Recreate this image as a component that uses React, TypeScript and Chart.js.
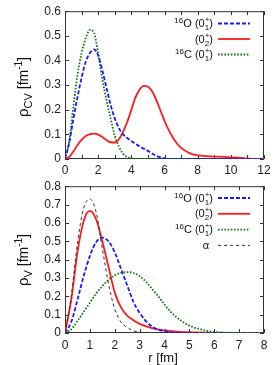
import { useEffect, useRef } from 'react';
import { Chart, registerables } from 'chart.js';
Chart.register(...registerables);

const FONT = '"Liberation Sans", Arial, Helvetica, sans-serif';

// ---------- Top panel: rho_CV ----------
const topXTicks = [0, 2, 4, 6, 8, 10, 12];
const topYTicks = [0, 0.1, 0.2, 0.3, 0.4, 0.5, 0.6];

const topO16R = [0, 0.25, 0.5, 0.75, 1.0, 1.25, 1.5, 1.75, 2.0, 2.25, 2.5, 2.75, 3.0, 3.25, 3.5, 3.75, 4.0, 4.5, 5.0, 5.5, 6.0, 6.5, 12];
const topO16V = [0, 0.065, 0.16, 0.25, 0.33, 0.395, 0.43, 0.445, 0.42, 0.36, 0.29, 0.22, 0.165, 0.125, 0.1, 0.085, 0.073, 0.051, 0.033, 0.013, 0.003, 0, 0];

const topO16bR = [0, 0.25, 0.5, 0.75, 1.0, 1.25, 1.5, 1.75, 2.0, 2.25, 2.5, 2.75, 3.0, 3.25, 3.5, 3.75, 4.0, 4.25, 4.5, 4.75, 5.0, 5.25, 5.5, 5.75, 6.0, 6.25, 6.5, 6.75, 7.0, 7.5, 8.0, 8.5, 9.0, 9.5, 10.0, 10.5, 11.0, 11.5, 12];
const topO16bV = [0, 0.008, 0.03, 0.057, 0.078, 0.093, 0.101, 0.103, 0.099, 0.089, 0.077, 0.068, 0.067, 0.08, 0.11, 0.15, 0.2, 0.25, 0.282, 0.297, 0.293, 0.275, 0.24, 0.198, 0.155, 0.118, 0.087, 0.063, 0.045, 0.024, 0.015, 0.012, 0.01, 0.009, 0.007, 0.005, 0.002, 0, 0];

const topC16R = [0, 0.25, 0.5, 0.75, 1.0, 1.25, 1.5, 1.75, 2.0, 2.25, 2.5, 2.75, 3.0, 3.25, 3.5, 3.75, 4.0, 4.5, 12];
const topC16V = [0, 0.07, 0.21, 0.34, 0.43, 0.49, 0.524, 0.512, 0.43, 0.325, 0.24, 0.165, 0.095, 0.05, 0.022, 0.008, 0.002, 0, 0];

// ---------- Bottom panel: rho_V ----------
const botXTicks = [0, 1, 2, 3, 4, 5, 6, 7, 8];
const botYTicks = [0, 0.1, 0.2, 0.3, 0.4, 0.5, 0.6, 0.7, 0.8];

const botO16R = [0, 0.25, 0.5, 0.75, 1.0, 1.25, 1.5, 1.75, 2.0, 2.25, 2.5, 2.75, 3.0, 3.25, 3.5, 3.75, 4.0, 4.5, 5.0, 8];
const botO16V = [0, 0.06, 0.18, 0.31, 0.42, 0.495, 0.52, 0.5, 0.44, 0.35, 0.26, 0.17, 0.11, 0.065, 0.035, 0.018, 0.009, 0.002, 0, 0];

const botO16bR = [0, 0.25, 0.5, 0.75, 1.0, 1.25, 1.5, 1.75, 2.0, 2.25, 2.5, 2.75, 3.0, 3.5, 4.0, 4.5, 5.0, 6.0, 7.0, 8];
const botO16bV = [0, 0.18, 0.44, 0.61, 0.665, 0.62, 0.5, 0.36, 0.22, 0.14, 0.095, 0.07, 0.05, 0.027, 0.014, 0.008, 0.004, 0.001, 0, 0];

const botC16R = [0, 0.25, 0.5, 0.75, 1.0, 1.25, 1.5, 1.75, 2.0, 2.25, 2.5, 2.75, 3.0, 3.25, 3.5, 3.75, 4.0, 4.25, 4.5, 4.75, 5.0, 5.5, 6.0, 6.5, 7.0, 8];
const botC16V = [0, 0.02, 0.065, 0.115, 0.165, 0.215, 0.255, 0.29, 0.315, 0.328, 0.332, 0.327, 0.31, 0.28, 0.24, 0.2, 0.155, 0.115, 0.085, 0.06, 0.04, 0.018, 0.006, 0.002, 0, 0];

const botAlphaR = [0, 0.25, 0.5, 0.75, 1.0, 1.25, 1.5, 1.75, 2.0, 2.25, 2.5, 2.75, 3.0, 3.5, 4.0, 8];
const botAlphaV = [0, 0.2, 0.49, 0.68, 0.73, 0.66, 0.46, 0.27, 0.13, 0.06, 0.03, 0.012, 0.005, 0.001, 0, 0];

const BLUE = '#1a1aff';
const RED = '#ff1a1a';
const GREEN = '#0a7a0a';
const BLACK = '#333333';

type Seg = { t: string; s: number; dy?: number } | { sup: string; sub: string; s: number };

function font(s: number) {
  return `${s}px ${FONT}`;
}

function segWidth(ctx: CanvasRenderingContext2D, seg: Seg) {
  ctx.font = font(seg.s);
  if ('t' in seg) return ctx.measureText(seg.t).width;
  return Math.max(ctx.measureText(seg.sup).width, ctx.measureText(seg.sub).width);
}

function drawRich(ctx: CanvasRenderingContext2D, segs: Seg[], x: number, y: number, align: 'left' | 'right' | 'center') {
  const w = segs.reduce((a, s) => a + segWidth(ctx, s), 0);
  let cx = align === 'right' ? x - w : align === 'center' ? x - w / 2 : x;
  ctx.textAlign = 'left';
  ctx.textBaseline = 'alphabetic';
  for (const seg of segs) {
    const sw = segWidth(ctx, seg);
    ctx.font = font(seg.s);
    if ('t' in seg) {
      ctx.fillText(seg.t, cx, y + (seg.dy || 0));
    } else {
      ctx.fillText(seg.sup, cx, y - 5);
      ctx.fillText(seg.sub, cx, y + 3);
    }
    cx += sw;
  }
}

const levelSegs = (sub: string): Seg[] => [{ t: '(0', s: 11 }, { sup: '+', sub, s: 8 }, { t: ')', s: 11 }];

const legO16: Seg[] = [{ t: '16', s: 8, dy: -4 }, { t: 'O ', s: 11 }, ...levelSegs('1')];
const legO16b: Seg[] = [...levelSegs('2')];
const legC16: Seg[] = [{ t: '16', s: 8, dy: -4 }, { t: 'C ', s: 11 }, ...levelSegs('1')];
const legAlpha: Seg[] = [{ t: 'α', s: 11 }];

type LegendItem = { segs: Seg[]; color: string; dash: number[]; width: number; xr?: number };

function mkPlugin(opts: {
  legend: LegendItem[];
  legendY0: number;
  legendDy: number;
  yTitle: Seg[];
  yTitleCy: number;
  xTitle?: string;
  xTitleY?: number;
  minorX: number[];
}) {
  return {
    id: 'custom',
    beforeDatasetsDraw(chart: any) {
      const { ctx, chartArea: a, scales } = chart;
      ctx.save();
      ctx.strokeStyle = '#333';
      ctx.lineWidth = 1;
      ctx.strokeRect(a.left + 0.5, a.top + 0.5, a.right - a.left - 1, a.bottom - a.top - 1);
      ctx.beginPath();
      const L = 4;
      for (const v of opts.minorX) {
        const px = Math.round(scales.x.getPixelForValue(v)) + 0.5;
        ctx.moveTo(px, a.bottom);
        ctx.lineTo(px, a.bottom - L);
        ctx.moveTo(px, a.top);
        ctx.lineTo(px, a.top + L);
      }
      for (const t of scales.y.ticks) {
        const py = Math.round(scales.y.getPixelForValue(t.value)) + 0.5;
        ctx.moveTo(a.left, py);
        ctx.lineTo(a.left + L, py);
        ctx.moveTo(a.right, py);
        ctx.lineTo(a.right - L, py);
      }
      ctx.stroke();
      ctx.restore();
    },
    afterDraw(chart: any) {
      const { ctx } = chart;
      ctx.save();
      ctx.fillStyle = '#111';
      opts.legend.forEach((it, i) => {
        const cy = opts.legendY0 + i * opts.legendDy;
        drawRich(ctx, it.segs, it.xr ?? 213, cy + 4, 'right');
        ctx.beginPath();
        ctx.strokeStyle = it.color;
        ctx.lineWidth = it.width;
        ctx.setLineDash(it.dash);
        ctx.moveTo(218, cy + 0.5);
        ctx.lineTo(250, cy + 0.5);
        ctx.stroke();
        ctx.setLineDash([]);
      });
      ctx.save();
      ctx.translate(28, opts.yTitleCy);
      ctx.rotate(-Math.PI / 2);
      drawRich(ctx, opts.yTitle, 0, 0, 'center');
      ctx.restore();
      if (opts.xTitle) {
        ctx.font = font(13);
        ctx.textAlign = 'center';
        ctx.textBaseline = 'middle';
        ctx.fillText(opts.xTitle, 163, opts.xTitleY);
      }
      ctx.restore();
    },
  };
}

function ds(label: string, r: number[], v: number[], color: string, dash: number[], width: number) {
  return {
    label,
    data: r.map((x, i) => ({ x, y: v[i] })),
    borderColor: color,
    borderWidth: width,
    borderDash: dash,
    pointRadius: 0,
    fill: false,
    cubicInterpolationMode: 'monotone' as const,
  };
}

function baseOptions(xMax: number, yMax: number, xTicks: number[], yTicks: number[], xAxisH: number, xPad: number) {
  return {
    responsive: false,
    animation: false as const,
    devicePixelRatio: 1,
    layout: { padding: { top: 10, right: 11, left: 0, bottom: 0 } },
    plugins: { legend: { display: false }, tooltip: { enabled: false } },
    scales: {
      x: {
        type: 'linear' as const,
        min: 0,
        max: xMax,
        grid: { display: false, drawTicks: false },
        border: { display: false },
        afterBuildTicks: (s: any) => {
          s.ticks = xTicks.map((value) => ({ value }));
        },
        afterFit: (s: any) => {
          s.height = xAxisH;
        },
        ticks: {
          autoSkip: false,
          maxRotation: 0,
          padding: xPad,
          color: '#222',
          font: { family: FONT, size: 12 },
          callback: (v: any) => String(v),
        },
      },
      y: {
        type: 'linear' as const,
        min: 0,
        max: yMax,
        grid: { display: false, drawTicks: false },
        border: { display: false },
        afterBuildTicks: (s: any) => {
          s.ticks = yTicks.map((value) => ({ value }));
        },
        afterFit: (s: any) => {
          s.width = 65;
        },
        ticks: {
          autoSkip: false,
          padding: 4,
          color: '#222',
          font: { family: FONT, size: 12 },
          callback: (v: any) => (v === 0 ? '0' : Number(v).toFixed(1)),
        },
      },
    },
  };
}

function TopChart() {
  const ref = useRef<HTMLCanvasElement>(null);
  useEffect(() => {
    const chart = new Chart(ref.current!, {
      type: 'line',
      data: {
        datasets: [
          ds('16O (0+1)', topO16R, topO16V, BLUE, [4, 2], 1.8),
          ds('(0+2)', topO16bR, topO16bV, RED, [], 1.8),
          ds('16C (0+1)', topC16R, topC16V, GREEN, [1.6, 1.6], 1.8),
        ],
      },
      options: baseOptions(12, 0.6, topXTicks, topYTicks, 16, 4) as any,
      plugins: [
        mkPlugin({
          legend: [
            { segs: legO16, color: BLUE, dash: [4, 2], width: 1.8 },
            { segs: legO16b, color: RED, dash: [], width: 1.8 },
            { segs: legC16, color: GREEN, dash: [1.6, 1.6], width: 1.8 },
          ],
          legendY0: 23,
          legendDy: 15.5,
          yTitle: [
            { t: 'ρ', s: 15 },
            { t: 'CV', s: 11, dy: 4 },
            { t: ' [fm', s: 14 },
            { t: '-1', s: 10, dy: -6 },
            { t: ']', s: 14 },
          ],
          yTitleCy: 87,
          minorX: [0, 1, 2, 3, 4, 5, 6, 7, 8, 9, 10, 11, 12],
        }) as any,
      ],
    });
    return () => chart.destroy();
  }, []);
  return <canvas ref={ref} width={275} height={175} style={{ display: 'block' }} />;
}

function BottomChart() {
  const ref = useRef<HTMLCanvasElement>(null);
  useEffect(() => {
    const chart = new Chart(ref.current!, {
      type: 'line',
      data: {
        datasets: [
          ds('α', botAlphaR, botAlphaV, BLACK, [3, 3], 1),
          ds('16C (0+1)', botC16R, botC16V, GREEN, [1.6, 1.6], 1.8),
          ds('16O (0+1)', botO16R, botO16V, BLUE, [4, 2], 1.8),
          ds('(0+2)', botO16bR, botO16bV, RED, [], 1.8),
        ],
      },
      options: baseOptions(8, 0.8, botXTicks, botYTicks, 32, 5) as any,
      plugins: [
        mkPlugin({
          legend: [
            { segs: legO16, color: BLUE, dash: [4, 2], width: 1.8 },
            { segs: legO16b, color: RED, dash: [], width: 1.8 },
            { segs: legC16, color: GREEN, dash: [1.6, 1.6], width: 1.8 },
            { segs: legAlpha, color: BLACK, dash: [3, 3], width: 1, xr: 209 },
          ],
          legendY0: 22.5,
          legendDy: 15.8,
          yTitle: [
            { t: 'ρ', s: 15 },
            { t: 'V', s: 11, dy: 4 },
            { t: ' [fm', s: 14 },
            { t: '-1', s: 10, dy: -6 },
            { t: ']', s: 14 },
          ],
          yTitleCy: 85,
          xTitle: 'r [fm]',
          xTitleY: 183,
          minorX: [0, 1, 2, 3, 4, 5, 6, 7, 8],
        }) as any,
      ],
    });
    return () => chart.destroy();
  }, []);
  return <canvas ref={ref} width={275} height={190} style={{ display: 'block' }} />;
}

export default function App() {
  return (
    <div style={{ position: 'absolute', left: 0, top: 0, width: 275, height: 365, background: '#fff' }}>
      <TopChart />
      <BottomChart />
    </div>
  );
}
